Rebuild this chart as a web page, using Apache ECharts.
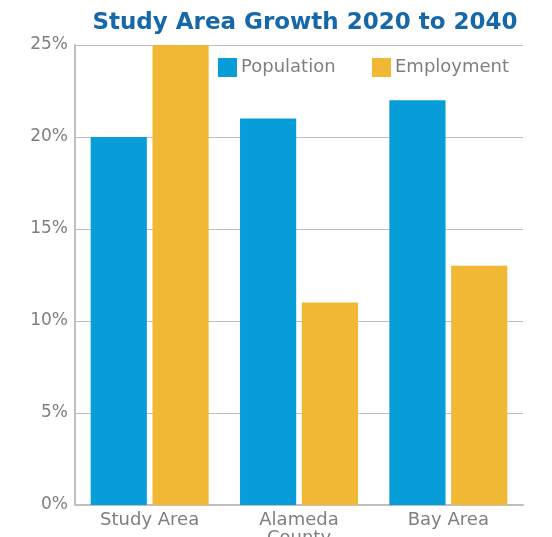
<!DOCTYPE html>
<html><head><meta charset="utf-8">
<script src="https://cdn.jsdelivr.net/npm/echarts@6/dist/echarts.min.js"></script>
<style>html,body{margin:0;padding:0;background:#fff;overflow:hidden}#c{width:552px;height:537px}</style>
</head><body><div id="c"></div>
<script>
const categories = ['Study Area', 'Alameda\nCounty', 'Bay Area'];
const population = [20, 21, 22];
const employment = [25, 11, 13];
const yTicks = [0, 5, 10, 15, 20, 25];

const chart = echarts.init(document.getElementById('c'), null, { width: 552, height: 537 });
const legendText = { fontFamily: 'DejaVu Sans', fontSize: 18, color: '#7f7f7f', padding: [0, 0, 0, -1] };
chart.setOption({
  animation: false,
  title: {
    text: 'Study Area Growth 2020 to 2040',
    left: 300, top: 7, textAlign: 'center',
    textStyle: { fontFamily: 'DejaVu Sans', fontWeight: 'bold', fontSize: 23, color: '#1668a9' }
  },
  legend: [
    { left: 218, top: 58, itemWidth: 19, itemHeight: 19, icon: 'rect', padding: 0,
      textStyle: legendText, data: ['Population'] },
    { left: 372, top: 58, itemWidth: 19, itemHeight: 19, icon: 'rect', padding: 0,
      textStyle: legendText, data: ['Employment'] }
  ],
  grid: { left: 75, right: 29, top: 45, bottom: 32, containLabel: false, outerBoundsMode: 'none' },
  xAxis: {
    type: 'category', data: categories,
    axisLine: { lineStyle: { color: '#bfbfbf', width: 2 } },
    axisTick: { show: false },
    axisLabel: { fontFamily: 'DejaVu Sans', fontSize: 18, color: '#7f7f7f', margin: 6, lineHeight: 18 }
  },
  yAxis: {
    type: 'value', min: yTicks[0], max: yTicks[yTicks.length - 1], interval: 5,
    axisLine: { show: true, lineStyle: { color: '#bfbfbf', width: 2 } },
    axisTick: { show: false },
    splitLine: { lineStyle: { color: '#bfbfbf', width: 1 } },
    axisLabel: { fontFamily: 'DejaVu Sans', fontSize: 17, color: '#7f7f7f', margin: 7, formatter: '{value}%' }
  },
  series: [
    { name: 'Population', type: 'bar', data: population, itemStyle: { color: '#079dd9' }, barGap: '10%', barCategoryGap: '21%' },
    { name: 'Employment', type: 'bar', data: employment, itemStyle: { color: '#f0b834' } }
  ]
});
</script></body></html>
